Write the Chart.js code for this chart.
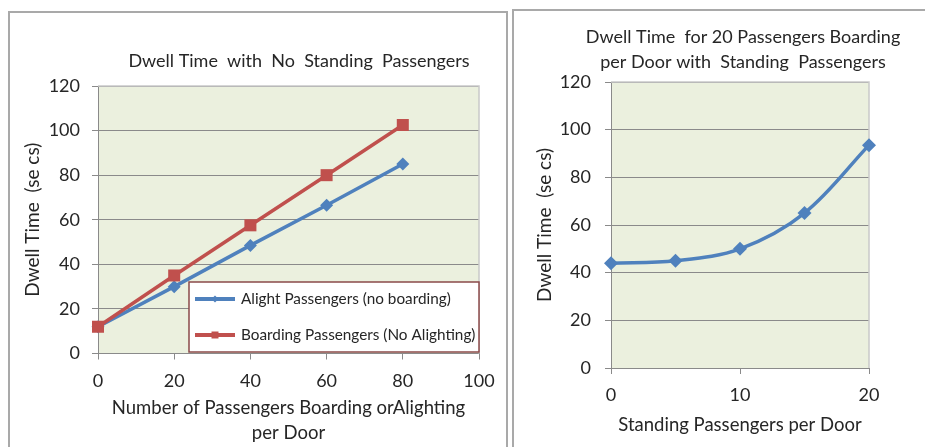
<!DOCTYPE html>
<html>
<head>
<meta charset="utf-8">
<script src="https://cdn.jsdelivr.net/npm/chart.js@4.4.1/dist/chart.umd.min.js"></script>
<style>
  html, body { margin: 0; padding: 0; background: #fff; width: 925px; height: 447px; overflow: hidden; }
  .frame { position: absolute; box-sizing: border-box; border: 2px solid #a9a9a9; }
  #frameA { left: 8px; top: 11px; width: 500px; height: 470px; }
  #frameB { left: 512px; top: 9px; width: 450px; height: 470px; }
  canvas { position: absolute; }
  #dwellA { left: 10px; top: 13px; }
  #dwellB { left: 514px; top: 11px; }
</style>
</head>
<body>
<div class="frame" id="frameA"></div>
<div class="frame" id="frameB"></div>
<canvas id="dwellA" width="496" height="434"></canvas>
<canvas id="dwellB" width="411" height="436"></canvas>
<script>
// Passengers boarding or alighting per door, and the dwell time (secs) for each case
const doorPassengers = [0, 20, 40, 60, 80];
const alightSecs = [12, 30, 48.5, 66.5, 85];
const boardSecs = [12, 35, 57.5, 80, 102.5];

// Standing passengers per door, with 20 passengers boarding per door
const standingPassengers = [0, 5, 10, 15, 20];
const standingSecs = [44, 45, 50, 65, 93.5];

// Axis ticks and labels
const dwellTicks = [0, 20, 40, 60, 80, 100, 120];
const doorTicks = [0, 20, 40, 60, 80, 100];
const standingTicks = [0, 10, 20];
const seriesNames = ['Alight Passengers (no boarding)', 'Boarding Passengers (No Alighting)'];
const titleA = ['Dwell Time  with  No  Standing  Passengers'];
const titleB = ['Dwell Time  for 20 Passengers Boarding', 'per Door with  Standing  Passengers'];
const yTitle = 'Dwell Time  (se cs)';
const xTitleA = ['Number of Passengers Boarding orAlighting', 'per Door'];
const xTitleB = 'Standing Passengers per Door';

const FONT = 'Lato, "Open Sans", sans-serif';
const TEXT = '#262626';
const BLUE = '#4f81bd';
const RED = '#c0504d';
const PLOT_BG = '#ebf0de';
const GRID = '#8a8a8a';

Chart.defaults.font.family = FONT;
Chart.defaults.color = TEXT;

const toPoints = (xs, ys) => xs.map((x, i) => ({ x, y: ys[i] }));

// Fills the plot area and draws its light outline on the top and right
const plotPanel = {
  id: 'plotPanel',
  beforeDraw(chart) {
    const { ctx, chartArea: a } = chart;
    ctx.save();
    ctx.fillStyle = PLOT_BG;
    ctx.fillRect(a.left, a.top, a.right - a.left, a.bottom - a.top);
    ctx.restore();
  },
  beforeDatasetsDraw(chart) {
    const { ctx, chartArea: a } = chart;
    ctx.save();
    ctx.strokeStyle = '#c9c9c9';
    ctx.lineWidth = 1.5;
    ctx.beginPath();
    ctx.moveTo(a.left, a.top);
    ctx.lineTo(a.right, a.top);
    ctx.lineTo(a.right, a.bottom);
    ctx.stroke();
    ctx.restore();
  }
};

// Chart heading text
const headline = {
  id: 'headline',
  afterDraw(chart, args, o) {
    const { ctx } = chart;
    ctx.save();
    ctx.font = `${o.size}px ${FONT}`;
    ctx.fillStyle = o.color;
    ctx.textAlign = 'center';
    ctx.textBaseline = 'middle';
    o.lines.forEach((t, i) => ctx.fillText(t, o.x, o.y + i * o.gap));
    ctx.restore();
  }
};

function drawMarker(ctx, style, x, y, r) {
  ctx.beginPath();
  if (style === 'rectRot') {
    ctx.moveTo(x, y - r); ctx.lineTo(x + r, y); ctx.lineTo(x, y + r); ctx.lineTo(x - r, y);
  } else {
    ctx.rect(x - r, y - r, 2 * r, 2 * r);
  }
  ctx.closePath();
  ctx.fill();
}

// Boxed legend placed inside the plot
const boxLegend = {
  id: 'boxLegend',
  afterDraw(chart, args, o) {
    if (!o.show) return;
    const { ctx } = chart;
    ctx.save();
    ctx.fillStyle = '#ffffff';
    ctx.fillRect(o.left, o.top, o.width, o.height);
    ctx.strokeStyle = o.borderColor;
    ctx.lineWidth = 1.5;
    ctx.strokeRect(o.left, o.top, o.width, o.height);
    ctx.font = `${o.size}px ${FONT}`;
    ctx.textBaseline = 'middle';
    ctx.textAlign = 'left';
    chart.data.datasets.forEach((ds, i) => {
      const y = o.top + o.firstRow + i * o.rowGap;
      const x0 = o.left + o.lineStart;
      ctx.strokeStyle = ds.borderColor;
      ctx.lineWidth = 4;
      ctx.beginPath();
      ctx.moveTo(x0, y);
      ctx.lineTo(x0 + o.lineLen, y);
      ctx.stroke();
      ctx.fillStyle = ds.borderColor;
      drawMarker(ctx, ds.pointStyle, x0 + o.lineLen / 2, y, 3.5);
      ctx.fillStyle = TEXT;
      ctx.fillText(ds.label, x0 + o.lineLen + 6, y);
    });
    ctx.restore();
  }
};

function yScale(width, tickPad) {
  return {
    type: 'linear',
    min: 0, max: 120,
    afterFit(s) { s.width = width; },
    afterBuildTicks(s) { s.ticks = dwellTicks.map(v => ({ value: v })); },
    ticks: { font: { size: 18 }, padding: tickPad, color: TEXT },
    grid: { color: GRID, lineWidth: 1, tickLength: 6 },
    border: { color: GRID, width: 1 },
    title: { display: true, text: yTitle, font: { size: 19 }, padding: { top: 4, bottom: 4 }, color: TEXT }
  };
}

function xScale(min, max, tickValues, height, title) {
  return {
    type: 'linear',
    min, max,
    afterFit(s) { s.height = height; },
    afterBuildTicks(s) { s.ticks = tickValues.map(v => ({ value: v })); },
    ticks: { font: { size: 18 }, padding: 10.5, color: TEXT, maxRotation: 0 },
    grid: { color: GRID, lineWidth: 1, tickLength: 6, drawOnChartArea: false },
    border: { color: GRID, width: 1 },
    title: { display: true, text: title, font: { size: 18.5, lineHeight: 1.35 }, padding: { top: 0, bottom: 0 }, color: TEXT }
  };
}

new Chart(document.getElementById('dwellA'), {
  type: 'line',
  data: {
    datasets: [
      {
        label: seriesNames[0],
        data: toPoints(doorPassengers, alightSecs),
        borderColor: BLUE, backgroundColor: BLUE,
        borderWidth: 3.5, pointStyle: 'rectRot', pointRadius: 6.5,
        pointBorderWidth: 0, tension: 0, clip: false, order: 1
      },
      {
        label: seriesNames[1],
        data: toPoints(doorPassengers, boardSecs),
        borderColor: RED, backgroundColor: RED,
        borderWidth: 3.5, pointStyle: 'rect', pointRadius: 8.5,
        pointBorderWidth: 0, tension: 0, clip: false, order: 0
      }
    ]
  },
  options: {
    responsive: false,
    animation: false,
    layout: { padding: { top: 73, left: 7.6, right: 27, bottom: 1.5 } },
    scales: {
      x: xScale(0, 100, doorTicks, 92, xTitleA),
      y: yScale(80.4, 12)
    },
    plugins: {
      legend: { display: false },
      tooltip: { enabled: false },
      headline: { lines: titleA, x: 289, y: 48, gap: 25, size: 18, color: TEXT },
      boxLegend: {
        show: true, left: 179, top: 269, width: 290, height: 70,
        borderColor: '#8b4a4a', firstRow: 17, rowGap: 36,
        lineStart: 6, lineLen: 40, size: 15.3
      }
    }
  },
  plugins: [plotPanel, headline, boxLegend]
});

new Chart(document.getElementById('dwellB'), {
  type: 'line',
  data: {
    datasets: [
      {
        label: 'Dwell Time',
        data: toPoints(standingPassengers, standingSecs),
        borderColor: BLUE, backgroundColor: BLUE,
        borderWidth: 3.5, pointStyle: 'rectRot', pointRadius: 7,
        pointBorderWidth: 0, tension: 0.35, clip: false
      }
    ]
  },
  options: {
    responsive: false,
    animation: false,
    layout: { padding: { top: 71, left: 15.6, right: 56, bottom: 9.5 } },
    scales: {
      x: xScale(0, 20, standingTicks, 69.5, xTitleB),
      y: yScale(81.4, 14)
    },
    plugins: {
      legend: { display: false },
      tooltip: { enabled: false },
      headline: { lines: titleB, x: 229, y: 26, gap: 25, size: 18, color: TEXT },
      boxLegend: { show: false }
    }
  },
  plugins: [plotPanel, headline, boxLegend]
});
</script>
</body>
</html>
